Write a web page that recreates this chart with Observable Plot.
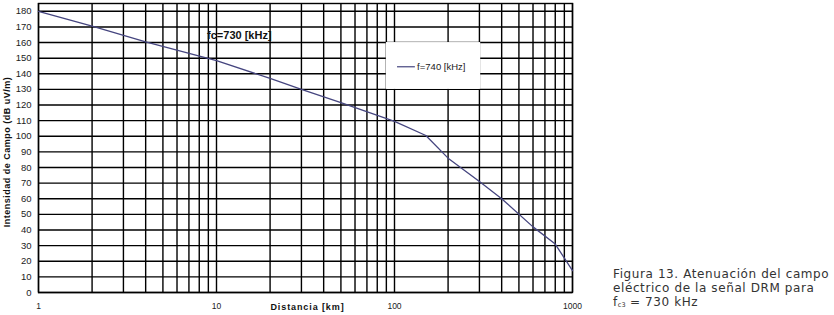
<!DOCTYPE html>
<html>
<head>
<meta charset="utf-8">
<script src="https://cdn.jsdelivr.net/npm/d3@7"></script>
<script src="https://cdn.jsdelivr.net/npm/@observablehq/plot@0.6"></script>
<style>
  html, body { margin: 0; padding: 0; background: #fff; }
  #wrap { position: relative; width: 834px; height: 315px; }
  #caption {
    position: absolute; left: 613px; top: 267px;
    font-family: "DejaVu Sans", sans-serif; font-size: 12px; line-height: 14px;
    color: #333; white-space: nowrap; letter-spacing: 0.6px;
  }
  #caption sub { font-size: 6.5px; vertical-align: -1px; line-height: 0; letter-spacing: 0; }
</style>
</head>
<body>
<div id="wrap">
  <div id="chart"></div>
  <div id="caption">Figura 13. Atenuación del campo<br>eléctrico de la señal DRM para<br>f<sub>c3</sub> = 730 kHz</div>
</div>
<script>
// Data
const distanceKm = [1, 2, 4, 10, 20, 30, 50, 100, 150, 200, 300, 400, 600, 800, 1000];
const fieldDb   = [180, 170.5, 160.5, 148.5, 137, 130, 121.5, 109.5, 100.5, 86, 71, 60, 42, 31, 14];
const xGridTicks = [1,2,3,4,5,6,7,8,9,10,20,30,40,50,60,70,80,90,100,200,300,400,500,600,700,800,900,1000];
const xLabelTicks = [1, 10, 100, 1000];
const yTicks = [0,10,20,30,40,50,60,70,80,90,100,110,120,130,140,150,160,170,180];
const seriesName = "f=740 [kHz]";
const annotation = "fc=730 [kHz]";
const xTitle = "Distancia [km]";
const yTitle = "Intensidad de Campo (dB uV/m)";

const rows = distanceKm.map((d, i) => ({d, v: fieldDb[i]}));
const lineColor = "#45457f";
const font = "'Liberation Sans', Arial, sans-serif";

const chart = Plot.plot({
  width: 834,
  height: 315,
  marginLeft: 38,
  marginRight: 262,
  marginTop: 3,
  marginBottom: 23,
  style: {fontFamily: font, background: "white", color: "#222"},
  x: {type: "log", domain: [1, 1000]},
  y: {domain: [0, 185]},
  marks: [
    Plot.ruleX(xGridTicks, {stroke: "black", strokeWidth: 1.4}),
    Plot.ruleY(yTicks, {stroke: "black", strokeWidth: 1.4}),
    Plot.frame({stroke: "black", strokeWidth: 1.4}),
    Plot.axisX(xLabelTicks, {tickSize: 0, tickPadding: 10, fontSize: 8.5, tickFormat: d => String(d), label: null}),
    Plot.axisY(yTicks, {tickSize: 0, tickPadding: 7, fontSize: 9.5, label: null}),
    // legend box
    Plot.rect([seriesName], {x1: 90, x2: 305, y1: 130, y2: 160, fill: "white"}),
    Plot.ruleY([seriesName], {y: 144.5, x1: 104, x2: 131, stroke: lineColor, strokeWidth: 1.2}),
    Plot.text([seriesName], {x: 134, y: 144.5, text: d => d, textAnchor: "start", fontSize: 9.5, fill: "#222"}),
    // data line
    Plot.line(rows, {x: "d", y: "v", stroke: lineColor, strokeWidth: 1.3}),
    // annotation
    Plot.text([annotation], {x: 8.85, y: 164.5, text: d => d, textAnchor: "start", fontSize: 11, fontWeight: "bold", fill: "#111"}),
    // axis titles
    Plot.text([xTitle], {frameAnchor: "bottom", dx: 2, dy: 14.5, text: d => d, textAnchor: "middle", fontSize: 9, fontWeight: "bold", fill: "#111", lineAnchor: "middle"}),
    Plot.text([yTitle], {frameAnchor: "left", dx: -31, dy: 4, rotate: -90, text: d => d, textAnchor: "middle", fontSize: 9, fontWeight: "bold", fill: "#111", lineAnchor: "middle"})
  ]
});
chart.querySelectorAll("text").forEach(t => {
  if (t.textContent === xTitle) t.style.letterSpacing = "0.9px";
  if (t.textContent === yTitle) t.style.letterSpacing = "0.5px";
});
document.getElementById("chart").appendChild(chart);
</script>
</body>
</html>
